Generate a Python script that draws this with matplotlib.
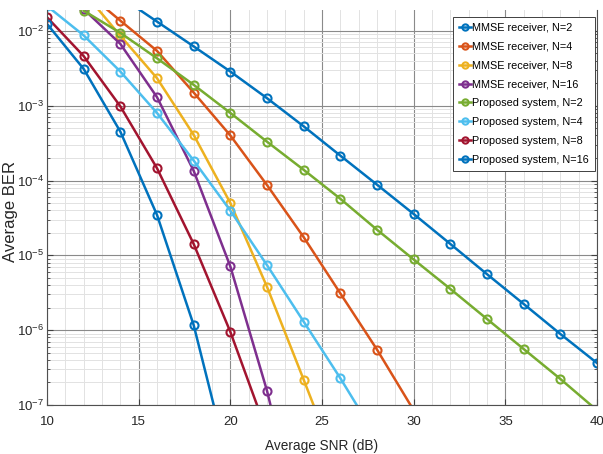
"""BER versus SNR: MMSE receiver and proposed system for several N."""

import math

import matplotlib

matplotlib.use("Agg")

import matplotlib.pyplot as plt
from matplotlib.ticker import FixedLocator, LogLocator, NullFormatter

# SNR grid (dB) for each curve
snr_mmse_n2 = [14, 16, 18, 20, 22, 24, 26, 28, 30, 32, 34, 36, 38, 40]
snr_mmse_n4 = [12, 14, 16, 18, 20, 22, 24, 26, 28, 30]
snr_mmse_n8 = [12, 14, 16, 18, 20, 22, 24, 26]
snr_mmse_n16 = [12, 14, 16, 18, 20, 22, 24]
snr_prop_n2 = [12, 14, 16, 18, 20, 22, 24, 26, 28, 30, 32, 34, 36, 38, 40]
snr_prop_n4 = [10, 12, 14, 16, 18, 20, 22, 24, 26, 28]
snr_prop_n8 = [10, 12, 14, 16, 18, 20, 22]
snr_prop_n16 = [10, 12, 14, 16, 18, 20]

# average BER
ber_mmse_n2 = [2.85e-2, 1.33e-2, 6.2e-3, 2.86e-3, 1.26e-3, 5.3e-4, 2.15e-4,
               8.8e-5, 3.57e-5, 1.42e-5, 5.6e-6, 2.24e-6, 8.9e-7, 3.64e-7]
ber_mmse_n4 = [3.5e-2, 1.37e-2, 5.4e-3, 1.5e-3, 4.0e-4, 8.7e-5, 1.75e-5,
               3.1e-6, 5.5e-7, 8.5e-8]
ber_mmse_n8 = [3.3e-2, 8.6e-3, 2.33e-3, 4.07e-4, 5.0e-5, 3.8e-6, 2.18e-7, 1.2e-8]
ber_mmse_n16 = [1.95e-2, 6.7e-3, 1.3e-3, 1.35e-4, 7.1e-6, 1.55e-7, 1.5e-9]
ber_prop_n2 = [1.86e-2, 9.4e-3, 4.3e-3, 1.9e-3, 8.0e-4, 3.3e-4, 1.39e-4, 5.7e-5,
               2.2e-5, 8.8e-6, 3.56e-6, 1.41e-6, 5.6e-7, 2.23e-7, 8.5e-8]
ber_prop_n4 = [2.15e-2, 8.7e-3, 2.86e-3, 8.0e-4, 1.85e-4, 3.96e-5, 7.4e-6,
               1.3e-6, 2.28e-7, 3.6e-8]
ber_prop_n8 = [1.52e-2, 4.6e-3, 9.8e-4, 1.46e-4, 1.42e-5, 9.5e-7, 4.3e-8]
ber_prop_n16 = [1.24e-2, 3.1e-3, 4.5e-4, 3.47e-5, 1.17e-6, 1.3e-8]

labels = [
    "MMSE receiver, N=2",
    "MMSE receiver, N=4",
    "MMSE receiver, N=8",
    "MMSE receiver, N=16",
    "Proposed system, N=2",
    "Proposed system, N=4",
    "Proposed system, N=8",
    "Proposed system, N=16",
]
x_ticks = [10, 15, 20, 25, 30, 35, 40]
y_ticks = [1e-7, 1e-6, 1e-5, 1e-4, 1e-3, 1e-2]

series = [
    (snr_mmse_n2, ber_mmse_n2, "#0072BD"),
    (snr_mmse_n4, ber_mmse_n4, "#D95319"),
    (snr_mmse_n8, ber_mmse_n8, "#EDB120"),
    (snr_mmse_n16, ber_mmse_n16, "#7E2F8E"),
    (snr_prop_n2, ber_prop_n2, "#77AC30"),
    (snr_prop_n4, ber_prop_n4, "#4DBEEE"),
    (snr_prop_n8, ber_prop_n8, "#A2142F"),
    (snr_prop_n16, ber_prop_n16, "#0072BD"),
]

plt.rcParams["font.family"] = ["Liberation Sans", "DejaVu Sans"]
plt.rcParams["mathtext.fontset"] = "custom"
plt.rcParams["mathtext.rm"] = "Liberation Sans"
plt.rcParams["mathtext.it"] = "Liberation Sans"
plt.rcParams["mathtext.default"] = "regular"

fig = plt.figure(figsize=(6.03, 4.54), dpi=100)
ax = fig.add_axes([47 / 603, 49 / 454, 550 / 603, 395 / 454])

for (snr, ber, color), label in zip(series, labels):
    ax.plot(snr, ber, "-o", color=color, linewidth=1.8, markersize=5.8,
            markerfacecolor="none", markeredgewidth=1.5, label=label)

ax.set_yscale("log")
ax.set_xlim(10, 40)
ax.set_ylim(1e-7, 1.9e-2)

ax.xaxis.set_major_locator(FixedLocator(x_ticks))
ax.xaxis.set_minor_locator(FixedLocator(range(10, 41)))
ax.yaxis.set_major_locator(FixedLocator(y_ticks))
ax.yaxis.set_minor_locator(LogLocator(base=10, subs=range(2, 10), numticks=20))
ax.yaxis.set_minor_formatter(NullFormatter())
ax.set_yticklabels([f"10$^{{{round(math.log10(v))}}}$" for v in y_ticks])

ax.grid(True, which="major", color="#8a8a8a", linewidth=0.8)
ax.grid(True, which="minor", color="#e2e2e2", linewidth=0.7)
ax.set_axisbelow(True)

ax.tick_params(which="both", direction="in", right=True, top=False,
               colors="#404040", labelcolor="#262626", labelsize=9.5)
ax.tick_params(which="major", length=4)
ax.tick_params(which="minor", length=2)
ax.tick_params(axis="x", which="minor", length=0)
ax.tick_params(axis="x", which="major", pad=8)
ax.tick_params(axis="y", which="major", pad=2)
for side in ["left", "bottom", "right"]:
    ax.spines[side].set_color("#505050")
    ax.spines[side].set_linewidth(0.8)
ax.spines["top"].set_visible(False)

ax.set_xlabel("Average SNR (dB)", fontsize=9.8, color="#262626", labelpad=8)
ax.set_ylabel("Average BER", fontsize=12, color="#262626")
ax.yaxis.set_label_coords(-0.052, 0.49)

leg = ax.legend(loc="upper right", bbox_to_anchor=(595 / 603, 1 - 17 / 454),
                bbox_transform=fig.transFigure, borderaxespad=0, fontsize=7.8,
                handlelength=1.1, handletextpad=0.15, labelspacing=0.815,
                borderpad=0.55, fancybox=False, framealpha=1, edgecolor="#404040")
leg.get_frame().set_linewidth(0.7)
for line in leg.get_lines():
    line.set_markersize(4.5)

fig.savefig("out.png", dpi=100)
